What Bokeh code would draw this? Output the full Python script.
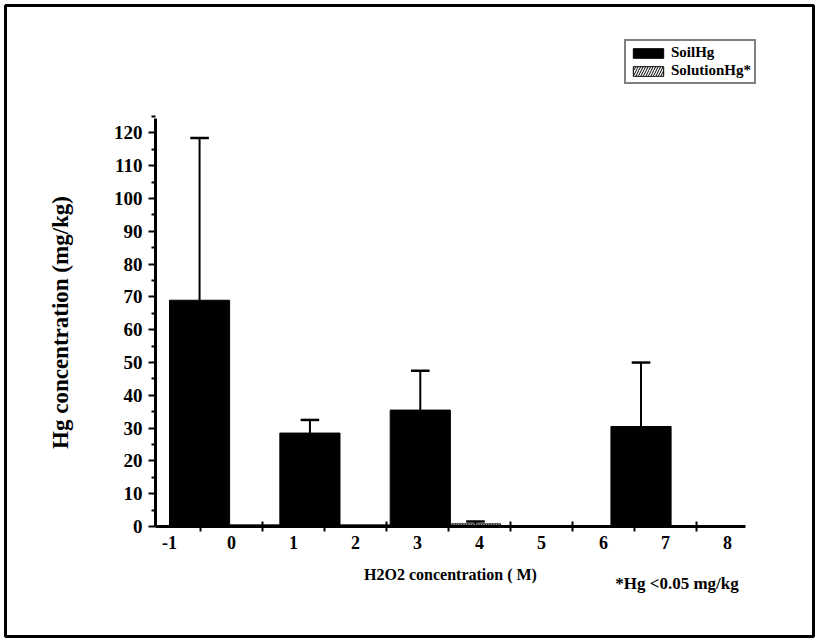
from bokeh.plotting import figure
from bokeh.models import FixedTicker, Range1d, Legend, LegendItem, Label
from bokeh.embed import file_html
from bokeh.resources import INLINE

# ---- data ----
groups = [0, 1, 2, 3, 4]                       # bar group index
soil_hg = [69.0, 28.5, 35.5, 0.3, 30.5]        # SoilHg (mg/kg)
soil_err = [49.5, 4.0, 12.0, 0.0, 19.5]        # upper error
solution_hg = [0.5, 0.5, 0.8, 0.3, 0.3]        # SolutionHg (<0.05 mg/kg)
solution_err = [0.0, 0.0, 0.7, 0.0, 0.0]
x_tick_labels = [-1, 0, 1, 2, 3, 4, 5, 6, 7, 8]
y_ticks = list(range(0, 121, 10))

# layout constants (axis units)
G0, GS = -0.03, 1.78     # first group boundary, group spacing
W_SOIL, W_SOL = 0.97, 0.81
CAP = 0.15
X_AXIS_BOUNDS = (-1.226, 8.29)
Y_AXIS_BOUNDS = (0, 124.4)

FONT = "Liberation Serif"

soil_x = [G0 + GS * g - W_SOIL / 2 for g in groups]
sol_x = [G0 + GS * g + W_SOL / 2 for g in groups]

p = figure(width=818, height=640, output_backend="svg", toolbar_location=None,
           x_range=Range1d(-3.645, 9.387), y_range=Range1d(-33.54, 158.88),
           min_border_left=5, min_border_right=5, min_border_top=5,
           min_border_bottom=4)
p.outline_line_color = "black"
p.outline_line_width = 3
p.grid.visible = False
p.background_fill_color = "white"
p.border_fill_color = "white"

soil_r = p.vbar(x=soil_x, width=W_SOIL, top=soil_hg, bottom=0,
                fill_color="black", line_color="black", line_width=1)
sol_r = p.vbar(x=sol_x, width=W_SOL, top=solution_hg, bottom=0,
               fill_color="white", line_color="black", line_width=1,
               hatch_pattern="/", hatch_color="black", hatch_scale=5,
               hatch_weight=1)

# error bars
for xs, tops, errs in ((soil_x, soil_hg, soil_err), (sol_x, solution_hg, solution_err)):
    ex = [x for x, e in zip(xs, errs) if e > 0]
    et = [t for t, e in zip(tops, errs) if e > 0]
    eu = [t + e for t, e in zip(tops, errs) if e > 0]
    p.segment(x0=ex, y0=et, x1=ex, y1=eu, line_color="black", line_width=2)
    p.segment(x0=[x - CAP for x in ex], y0=eu, x1=[x + CAP for x in ex], y1=eu,
              line_color="black", line_width=2.5)

# axes (drawn at fixed locations inside the bordered frame)
xa = p.xaxis[0]
xa.fixed_location = 0
xa.bounds = X_AXIS_BOUNDS
xa.ticker = FixedTicker(ticks=x_tick_labels,
                        minor_ticks=[v + 0.5 for v in x_tick_labels[:-1]])
xa.major_label_overrides = {-1: "-1"}
xa.major_tick_line_color = None
xa.major_tick_out = 0
xa.major_tick_in = 0
xa.minor_tick_line_color = "black"
xa.minor_tick_line_width = 2
xa.minor_tick_out = 5
xa.minor_tick_in = 5
xa.axis_line_width = 3
xa.axis_line_color = "black"
xa.major_label_standoff = 4
xa.major_label_text_font = FONT
xa.major_label_text_font_style = "bold"
xa.major_label_text_font_size = "18px"
xa.major_label_text_color = "black"
xa.axis_label = "H2O2 concentration ( M)"
xa.axis_label_text_font = FONT
xa.axis_label_text_font_style = "bold"
xa.axis_label_text_font_size = "16px"
xa.axis_label_text_color = "black"
xa.axis_label_standoff = 14

ya = p.yaxis[0]
ya.fixed_location = X_AXIS_BOUNDS[0]
ya.bounds = Y_AXIS_BOUNDS
ya.ticker = FixedTicker(ticks=y_ticks, minor_ticks=[v + 5 for v in y_ticks])
ya.axis_line_width = 3
ya.axis_line_color = "black"
ya.major_tick_line_width = 2
ya.major_tick_line_color = "black"
ya.major_tick_out = 7
ya.major_tick_in = 0
ya.minor_tick_line_width = 2
ya.minor_tick_line_color = "black"
ya.minor_tick_out = 4
ya.minor_tick_in = 0
ya.major_label_standoff = 6
ya.major_label_text_font = FONT
ya.major_label_text_font_style = "bold"
ya.major_label_text_font_size = "19px"
ya.major_label_text_color = "black"
ya.axis_label = "Hg concentration (mg/kg)"
ya.axis_label_text_font = FONT
ya.axis_label_text_font_style = "bold"
ya.axis_label_text_font_size = "23px"
ya.axis_label_text_color = "black"
ya.axis_label_standoff = 38

legend = Legend(items=[LegendItem(label="SoilHg", renderers=[soil_r]),
                       LegendItem(label="SolutionHg*", renderers=[sol_r])],
                location=(619, 552), orientation="vertical")
legend.label_text_font = FONT
legend.label_text_font_style = "bold"
legend.label_text_font_size = "15px"
legend.label_text_color = "black"
legend.glyph_width = 38
legend.glyph_height = 12
legend.label_height = 13
legend.label_standoff = 4
legend.spacing = 1
legend.padding = 3
legend.margin = 0
legend.border_line_color = "black"
legend.border_line_width = 2
legend.background_fill_alpha = 1
p.add_layout(legend)

note = Label(x=6.19, y=-17.4, text="*Hg <0.05 mg/kg", text_font=FONT,
             text_font_style="bold", text_font_size="17px",
             text_baseline="middle", text_color="black")
p.add_layout(note)

open("out.html", "w").write(file_html(p, INLINE))
